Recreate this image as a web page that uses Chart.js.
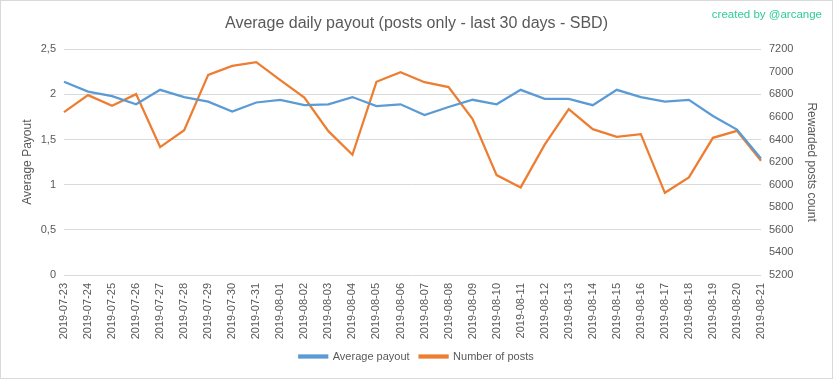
<!DOCTYPE html>
<html><head><meta charset="utf-8">
<script src="https://cdn.jsdelivr.net/npm/chart.js@4"></script>
<style>html,body{margin:0;padding:0;background:#fff}canvas{display:block}</style>
</head><body>
<canvas id="c" width="833" height="379"></canvas>
<script>
const categories = ["2019-07-23","2019-07-24","2019-07-25","2019-07-26","2019-07-27","2019-07-28","2019-07-29","2019-07-30","2019-07-31","2019-08-01","2019-08-02","2019-08-03","2019-08-04","2019-08-05","2019-08-06","2019-08-07","2019-08-08","2019-08-09","2019-08-10","2019-08-11","2019-08-12","2019-08-13","2019-08-14","2019-08-15","2019-08-16","2019-08-17","2019-08-18","2019-08-19","2019-08-20","2019-08-21"];
const averagePayout = [2.14,2.03,1.98,1.89,2.05,1.97,1.92,1.81,1.91,1.94,1.88,1.89,1.97,1.87,1.89,1.77,1.86,1.94,1.89,2.05,1.95,1.95,1.88,2.05,1.97,1.92,1.94,1.76,1.61,1.29];
const numberOfPosts = [6643,6793,6698,6802,6333,6483,6973,7052,7085,6926,6772,6474,6265,6911,6997,6908,6864,6581,6085,5976,6355,6669,6492,6424,6448,5928,6065,6415,6477,6212];
const leftTicks = {min:0, max:2.5, step:0.5};
const rightTicks = {min:5200, max:7200, step:200};

const TXT = '#595959';
const FONT = "'Liberation Sans', Arial, sans-serif";

const decor = {
  id:'decor',
  afterDraw(chart){
    const ctx = chart.ctx;
    ctx.save();
    ctx.strokeStyle = '#d9d9d9';
    ctx.lineWidth = 1;
    ctx.strokeRect(0.5,0.5,chart.width-1,chart.height-1);
    ctx.fillStyle = '#2fcb9c';
    ctx.font = "11.5px " + FONT;
    ctx.textAlign = 'right';
    ctx.textBaseline = 'middle';
    ctx.fillText('created by @arcange', 822, 15);
    ctx.restore();
  }
};

new Chart(document.getElementById('c'), {
  type:'line',
  data:{
    labels: categories,
    datasets:[
      {label:'Average payout', data: averagePayout, yAxisID:'y', borderColor:'#5B9BD5', backgroundColor:'#5B9BD5', borderWidth:2.25, pointRadius:0, tension:0},
      {label:'Number of posts', data: numberOfPosts, yAxisID:'y1', borderColor:'#ED7D31', backgroundColor:'#ED7D31', borderWidth:2.25, pointRadius:0, tension:0}
    ]
  },
  options:{
    responsive:false,
    animation:false,
    layout:{padding:{left:0,right:0,top:0,bottom:7}},
    plugins:{
      title:{display:true, text:'Average daily payout (posts only - last 30 days - SBD)', color:TXT, font:{family:FONT, size:16, weight:'normal'}, padding:{top:14,bottom:16}},
      legend:{position:'bottom', labels:{color:TXT, font:{family:FONT, size:11}, boxWidth:28, boxHeight:2, padding:10}},
      tooltip:{enabled:false}
    },
    scales:{
      x:{
        grid:{display:false, drawTicks:false, tickLength:0}, border:{display:false},
        ticks:{color:TXT, font:{family:FONT, size:11}, maxRotation:90, minRotation:90, autoSkip:false, padding:8},
        afterFit(s){ s.height = 66; }
      },
      y:{
        position:'left', min:leftTicks.min, max:leftTicks.max,
        grid:{color:'#d9d9d9', drawTicks:false}, border:{display:false},
        ticks:{stepSize:leftTicks.step, color:TXT, font:{family:FONT, size:11}, padding:8, callback:v=>String(v).replace('.',',')},
        title:{display:true, text:'Average Payout', color:TXT, font:{family:FONT, size:12}, padding:{top:20,bottom:0}},
        afterFit(s){ s.width = 64; }
      },
      y1:{
        position:'right', min:rightTicks.min, max:rightTicks.max,
        grid:{drawOnChartArea:false, drawTicks:false}, border:{display:false},
        ticks:{stepSize:rightTicks.step, color:TXT, font:{family:FONT, size:11}, padding:8, callback:v=>String(v)},
        title:{display:true, text:'Rewarded posts count', color:TXT, font:{family:FONT, size:12}, padding:{top:14,bottom:0}},
        afterFit(s){ s.width = 72; }
      }
    }
  },
  plugins:[decor]
});
</script>
</body></html>
